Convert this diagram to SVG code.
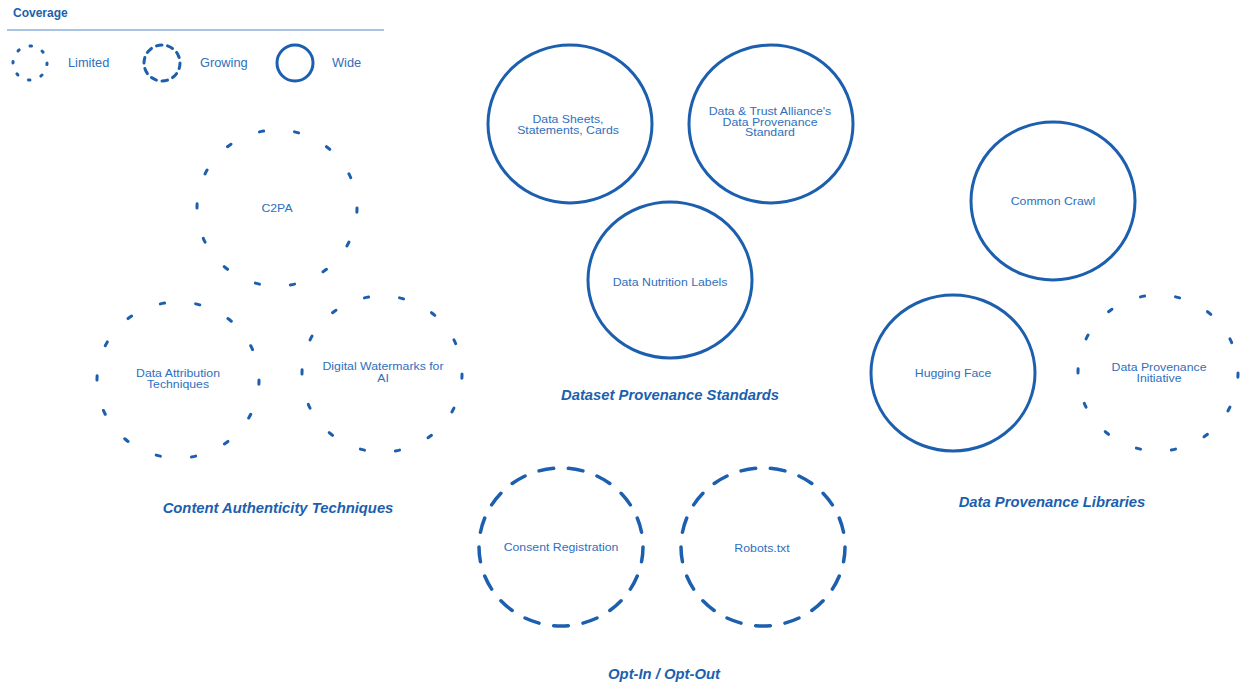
<svg xmlns="http://www.w3.org/2000/svg" width="1242" height="685" viewBox="0 0 1242 685">
  <defs>
    <style>
      .wide { fill: none; stroke: #1c5fae; stroke-width: 3; }
      .growing { fill: none; stroke: #1c5fae; stroke-width: 3.5; stroke-linecap: round; stroke-dasharray: 5 5; }
      .limited { fill: none; stroke: #1c5fae; stroke-width: 3; stroke-linecap: round; stroke-dasharray: 1.2 8.8; }
      .lbl { font-family: "Liberation Sans", Arial, sans-serif; font-size: 10.6px; fill: #2f6fbd; text-anchor: middle; }
      .grp { font-family: "Liberation Sans", Arial, sans-serif; font-size: 14.8px; font-weight: bold; font-style: italic; fill: #1c5fae; text-anchor: middle; }
      .leg { font-family: "Liberation Sans", Arial, sans-serif; font-size: 12.8px; fill: #2f6fbd; }
    </style>
  </defs>
  <rect width="1242" height="685" fill="#ffffff"/>

  <!-- Legend -->
  <g id="legend">
    <text x="13" y="17" style="font-family: 'Liberation Sans', Arial, sans-serif; font-size: 12px; font-weight: bold; fill: #1c5fae;">Coverage</text>
    <line x1="7" y1="30" x2="384" y2="30" stroke="#8ab0dc" stroke-width="1.5"/>
    <circle cx="30" cy="63" r="17" class="limited" pathLength="80"/>
    <text x="68" y="67" class="leg">Limited</text>
    <circle cx="162" cy="63" r="18" class="growing" pathLength="100" style="stroke-width:3; stroke-dasharray: 5 5;"/>
    <text x="200" y="67" class="leg">Growing</text>
    <circle cx="295" cy="63" r="18" class="wide"/>
    <text x="332" y="67" class="leg">Wide</text>
  </g>

  <!-- Content Authenticity Techniques -->
  <g id="c2pa">
    <ellipse cx="277" cy="208" rx="80" ry="78" class="limited" pathLength="140"/>
    <g transform="translate(277 0) scale(1.16 1)">
      <text x="0" y="212" class="lbl">C2PA</text>
    </g>
  </g>
  <g id="data-attribution">
    <ellipse cx="178" cy="380" rx="81" ry="78" class="limited" pathLength="140"/>
    <g transform="translate(178 0) scale(1.16 1)">
      <text x="0" y="377.5" class="lbl">Data Attribution</text>
      <text x="0" y="388.5" class="lbl">Techniques</text>
    </g>
  </g>
  <g id="digital-watermarks">
    <ellipse cx="382" cy="374" rx="80" ry="78" class="limited" pathLength="140"/>
    <g transform="translate(383 0) scale(1.16 1)">
      <text x="0" y="370.5" class="lbl">Digital Watermarks for</text>
      <text x="0" y="382" class="lbl">AI</text>
    </g>
  </g>
  <text x="278" y="513" class="grp">Content Authenticity Techniques</text>

  <!-- Dataset Provenance Standards -->
  <g id="data-sheets">
    <ellipse cx="570" cy="124" rx="82" ry="79" class="wide"/>
    <g transform="translate(568 0) scale(1.16 1)">
      <text x="0" y="123.5" class="lbl">Data Sheets,</text>
      <text x="0" y="134" class="lbl">Statements, Cards</text>
    </g>
  </g>
  <g id="data-trust-alliance">
    <ellipse cx="771" cy="124" rx="82" ry="79" class="wide"/>
    <g transform="translate(770 0) scale(1.16 1)">
      <text x="0" y="115.5" class="lbl">Data &amp; Trust Alliance's</text>
      <text x="0" y="126" class="lbl">Data Provenance</text>
      <text x="0" y="136.5" class="lbl">Standard</text>
    </g>
  </g>
  <g id="data-nutrition-labels">
    <ellipse cx="670" cy="280" rx="82" ry="78" class="wide"/>
    <g transform="translate(670 0) scale(1.16 1)">
      <text x="0" y="286" class="lbl">Data Nutrition Labels</text>
    </g>
  </g>
  <text x="670" y="400" class="grp">Dataset Provenance Standards</text>

  <!-- Data Provenance Libraries -->
  <g id="common-crawl">
    <ellipse cx="1053" cy="201" rx="82" ry="79" class="wide"/>
    <g transform="translate(1053 0) scale(1.16 1)">
      <text x="0" y="205" class="lbl">Common Crawl</text>
    </g>
  </g>
  <g id="hugging-face">
    <ellipse cx="953" cy="373" rx="82" ry="78" class="wide"/>
    <g transform="translate(953 0) scale(1.16 1)">
      <text x="0" y="377" class="lbl">Hugging Face</text>
    </g>
  </g>
  <g id="data-provenance-initiative">
    <ellipse cx="1158" cy="373" rx="80" ry="78" class="limited" pathLength="140"/>
    <g transform="translate(1159 0) scale(1.16 1)">
      <text x="0" y="371.5" class="lbl">Data Provenance</text>
      <text x="0" y="382.5" class="lbl">Initiative</text>
    </g>
  </g>
  <text x="1052" y="507" class="grp">Data Provenance Libraries</text>

  <!-- Opt-In / Opt-Out -->
  <g id="consent-registration">
    <ellipse cx="561" cy="547" rx="82" ry="79" class="growing" pathLength="170"/>
    <g transform="translate(561 0) scale(1.16 1)">
      <text x="0" y="551" class="lbl">Consent Registration</text>
    </g>
  </g>
  <g id="robots-txt">
    <ellipse cx="763" cy="547" rx="82" ry="79" class="growing" pathLength="170"/>
    <g transform="translate(762 0) scale(1.16 1)">
      <text x="0" y="552" class="lbl">Robots.txt</text>
    </g>
  </g>
  <text x="664" y="679" class="grp">Opt-In / Opt-Out</text>

  <!-- no connectors in this chart -->
  <g id="connectors"/>
</svg>
